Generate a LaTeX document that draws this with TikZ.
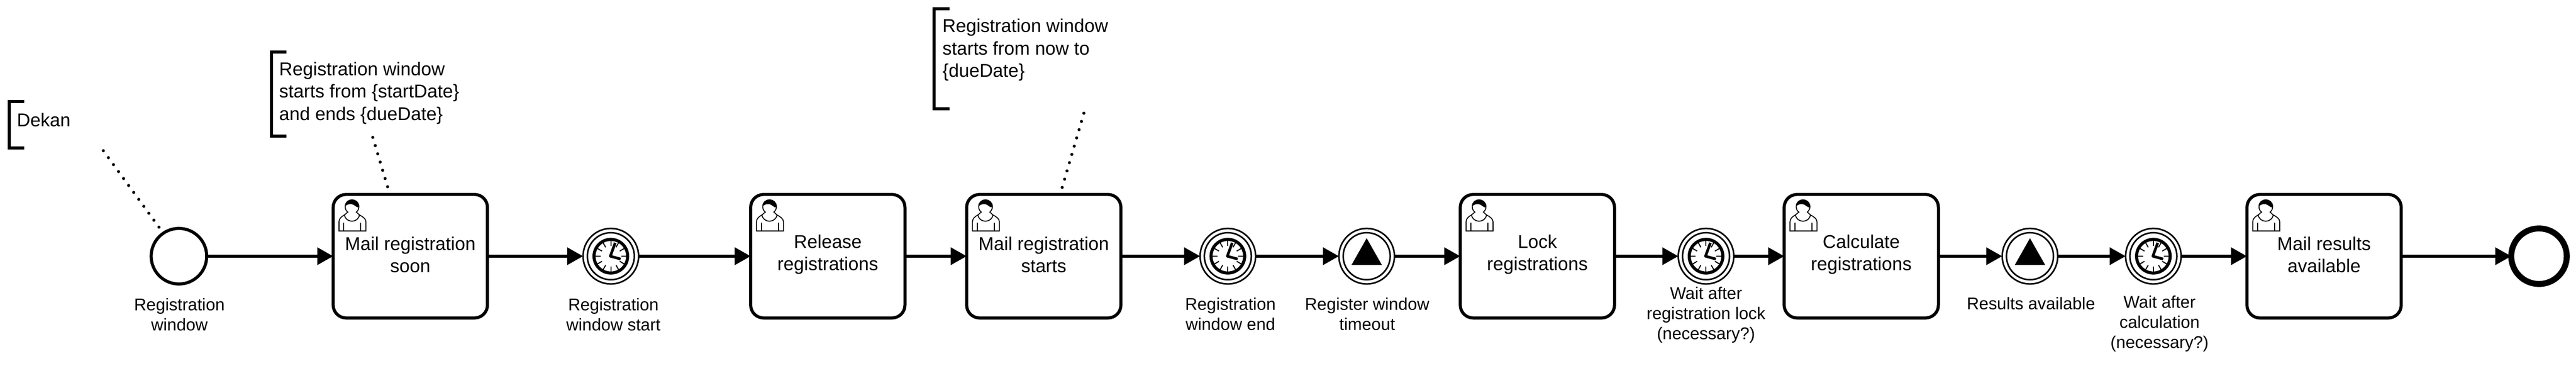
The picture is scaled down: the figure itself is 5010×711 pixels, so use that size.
\documentclass[tikz,border=0pt]{standalone}
\usepackage{fontspec}
\setmainfont{Liberation Sans}
\usetikzlibrary{arrows.meta}
\tikzset{
  x=0.5pt,y=-0.5pt,
  task/.style={draw,line width=3pt,rounded corners=12.5pt,minimum width=150pt,minimum height=120pt,inner sep=0pt,outer sep=0pt,fill=white},
  tasktext/.style={align=center,inner sep=0pt,outer sep=0pt,font=\fontsize{18}{21.6}\selectfont},
  startev/.style={draw,circle,line width=3pt,minimum size=54pt,inner sep=0pt,outer sep=0pt,fill=white},
  endev/.style={draw,circle,line width=5.8pt,minimum size=54pt,inner sep=0pt,outer sep=0pt,fill=white},
  midev/.style={draw,circle,line width=1.5pt,minimum size=54pt,inner sep=0pt,outer sep=0pt,fill=white},
  evlabel/.style={align=center,inner sep=0pt,outer sep=0pt,font=\fontsize{16.5}{19.5}\selectfont},
  notetext/.style={align=left,anchor=west,inner sep=0pt,outer sep=0pt,font=\fontsize{18}{21.6}\selectfont},
  flow/.style={line width=3pt,-{Triangle[length=15.5pt,width=16.5pt]}},
  assoc/.style={line width=3pt,line cap=round,dash pattern=on 0pt off 8.35pt},
  bracket/.style={line width=3pt},
  usericon/.pic={
    \draw[line width=0.9pt,fill=white] (11.3,71) -- (11.3,53) .. controls (11.3,47) and (16,43) .. (22,39.7) .. controls (24,56) and (49,56) .. (51,39.7) .. controls (57,43) and (63.7,47) .. (63.7,53) -- (63.7,71) -- cycle;
    \draw[line width=0.9pt,fill=white] (22,39.7) -- (28.5,34.2) .. controls (25,32) and (23.4,28) .. (23.4,23.7) .. controls (23.4,15) and (30,10.4) .. (36.7,10.4) .. controls (43.5,10.4) and (50,15.5) .. (50,23.7) .. controls (50,28) and (48,32) .. (45,34.2) -- (51,39.7);
    \draw[line width=0.9pt] (20.7,54.7) -- (20.7,71) (53.7,54.7) -- (53.7,71);
    \fill (23.6,22.5) .. controls (23.6,14) and (30,10.4) .. (36.7,10.4) .. controls (44,10.4) and (50,15) .. (50,25) .. controls (45,26) and (42,20) .. (36,18.7) .. controls (31,18) and (27,20) .. (23.6,22.5) -- cycle;
  },
  clockicon/.pic={
    \draw[line width=3pt,fill=white] (0,0) circle [radius=32.7];
    \foreach \a in {0,30,...,330} \draw[line width=1pt] (\a:20) -- (\a:30);
    \draw[line width=2.6pt,line join=round] (8.5,-26) -- (-1,0) -- (19,5.5);
  },
  signalicon/.pic={
    \fill (0,-35) -- (29.5,17) -- (-29.5,17) -- cycle;
  },
  innerring/.pic={
    \draw[line width=1.5pt] (0,0) circle [radius=45.7];
  },
}
\begin{document}
\begin{tikzpicture}
\path[use as bounding box,fill=white] (0,0) rectangle (5010,711);

% annotations
\node[notetext] (n1) at (33,233) {Dekan};
\draw[bracket] (47,197) -- (18,197) -- (18,288) -- (47,288);
\node[notetext] (n2) at (543,181) {Registration window\\starts from \{startDate\}\\and ends \{dueDate\}};
\draw[bracket] (557,101) -- (528,101) -- (528,265) -- (557,265);
\node[notetext] (n3) at (1833,97) {Registration window\\starts from now to\\\{dueDate\}};
\draw[bracket] (1847,17) -- (1817,17) -- (1817,211) -- (1847,211);

% flow objects
\node[startev] (e0) at (348,498) {};
\node[task] (t1) at (798,498) {};
\node[midev] (e1) at (1188,498) {};
\node[task] (t2) at (1610,498) {};
\node[task] (t3) at (2030,498) {};
\node[midev] (e2) at (2388,498) {};
\node[midev] (e3) at (2658,498) {};
\node[task] (t4) at (2990,498) {};
\node[midev] (e4) at (3318,498) {};
\node[task] (t5) at (3620,498) {};
\node[midev] (e5) at (3948,498) {};
\node[midev] (e6) at (4188,498) {};
\node[task] (t6) at (4520,498) {};
\node[endev] (e7) at (4938,498) {};

% task texts
\node[tasktext] (x1) at ([yshift=1.5pt]t1.center) {Mail registration\\soon};
\node[tasktext] (x2) at ([yshift=1.5pt]t2.center) {Release\\registrations};
\node[tasktext] (x3) at ([yshift=1.5pt]t3.center) {Mail registration\\starts};
\node[tasktext] (x4) at ([yshift=1.5pt]t4.center) {Lock\\registrations};
\node[tasktext] (x5) at ([yshift=1.5pt]t5.center) {Calculate\\registrations};
\node[tasktext] (x6) at ([yshift=1.5pt]t6.center) {Mail results\\available};

% event decorations
\foreach \e in {e1,e2,e3,e4,e5,e6} \pic at (\e.center) {innerring};
\foreach \e in {e1,e2,e4,e6} \pic at (\e.center) {clockicon};
\foreach \e in {e3,e5} \pic at (\e.center) {signalicon};
\foreach \t in {t1,t2,t3,t4,t5,t6} \pic at (\t.north west) {usericon};

% labels
\node[evlabel] (l0) at (349,611) {Registration\\window};
\node[evlabel] (l1) at (1193,611) {Registration\\window start};
\node[evlabel] (l2) at (2393,610) {Registration\\window end};
\node[evlabel] (l3) at (2659,610) {Register window\\timeout};
\node[evlabel] (l4) at (3318,612) {Wait after\\registration lock\\(necessary?)};
\node[evlabel] (l5) at (3950,590) {Results available};
\node[evlabel] (l6) at (4200,629) {Wait after\\calculation\\(necessary?)};

% sequence flows
\draw[flow] (e0) -- (t1);
\draw[flow] (t1) -- (e1);
\draw[flow] (e1) -- (t2);
\draw[flow] (t2) -- (t3);
\draw[flow] (t3) -- (e2);
\draw[flow] (e2) -- (e3);
\draw[flow] (e3) -- (t4);
\draw[flow] (t4) -- (e4);
\draw[flow] (e4) -- (t5);
\draw[flow] (t5) -- (e5);
\draw[flow] (e5) -- (e6);
\draw[flow] (e6) -- (t6);
\draw[flow] (t6) -- (e7);

% associations
\coordinate (a1s) at (201,293);
\coordinate (a1e) at (311,444);
\coordinate (a2s) at (725,267);
\coordinate (a2e) at (755,367);
\coordinate (a3s) at (2108,220);
\coordinate (a3e) at (2065,367);
\draw[assoc] (a1s) -- (a1e);
\draw[assoc] (a2s) -- (a2e);
\draw[assoc] (a3s) -- (a3e);
\end{tikzpicture}
\end{document}
